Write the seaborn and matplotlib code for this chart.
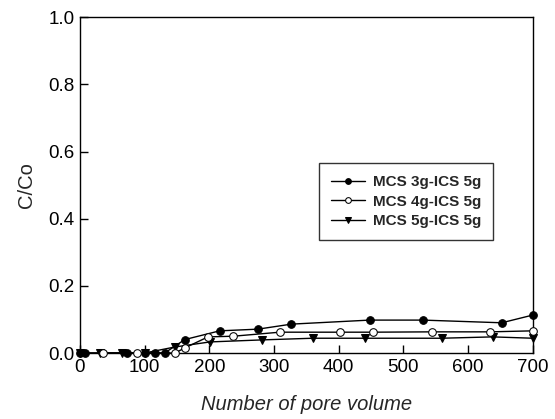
import matplotlib
matplotlib.use('Agg')
import matplotlib.pyplot as plt
import seaborn as sns
import pandas as pd

# data
x_3g = [0, 8, 72, 100, 116, 131, 162, 216, 275, 327, 448, 530, 652, 700]
y_3g = [0, 0, 0, 0, 0, 0, 0.04, 0.066, 0.071, 0.086, 0.098, 0.098, 0.09, 0.113]

x_4g = [35, 88, 147, 162, 198, 237, 309, 402, 453, 544, 634, 700]
y_4g = [0, 0, 0, 0.015, 0.048, 0.05, 0.062, 0.062, 0.062, 0.063, 0.063, 0.066]

x_5g = [0, 31, 65, 100, 147, 201, 281, 360, 440, 559, 638, 700]
y_5g = [0, 0, 0, 0, 0.018, 0.033, 0.039, 0.044, 0.044, 0.044, 0.048, 0.044]

labels = ['MCS 3g-ICS 5g', 'MCS 4g-ICS 5g', 'MCS 5g-ICS 5g']
x_ticks = [0, 100, 200, 300, 400, 500, 600, 700]
y_ticks = [0.0, 0.2, 0.4, 0.6, 0.8, 1.0]

sns.set_style('ticks')
plt.rcParams['font.family'] = ['Liberation Sans', 'DejaVu Sans']
plt.rcParams['xtick.direction'] = 'in'
plt.rcParams['ytick.direction'] = 'in'

fig = plt.figure(figsize=(5.55, 4.19), dpi=100)
ax = fig.add_axes([0.144, 0.1575, 0.816, 0.8015])

df1 = pd.DataFrame({'x': x_3g, 'y': y_3g})
df2 = pd.DataFrame({'x': x_4g, 'y': y_4g})
df3 = pd.DataFrame({'x': x_5g, 'y': y_5g})

sns.lineplot(data=df1, x='x', y='y', ax=ax, color='black', lw=1, marker='o',
             markersize=5.5, markerfacecolor='black', markeredgecolor='black',
             label=labels[0], clip_on=False, zorder=3)
sns.lineplot(data=df2, x='x', y='y', ax=ax, color='black', lw=1, marker='o',
             markersize=5.5, markerfacecolor='white', markeredgecolor='black',
             label=labels[1], clip_on=False, zorder=4)
sns.lineplot(data=df3, x='x', y='y', ax=ax, color='black', lw=1, marker='v',
             markersize=5.5, markerfacecolor='black', markeredgecolor='black',
             label=labels[2], clip_on=False, zorder=3)

ax.set_xlim(0, 700)
ax.set_ylim(0, 1.0)
ax.set_xticks(x_ticks)
ax.set_yticks(y_ticks)
ax.set_yticklabels([f'{v:.1f}' for v in y_ticks])
ax.tick_params(length=6, width=1, labelsize=13.5, colors='black', pad=4)
for s in ax.spines.values():
    s.set_color('black')
    s.set_linewidth(1)

ax.set_xlabel('Number of pore volume', fontsize=14.5, style='italic', labelpad=14)
ax.set_ylabel('C/Co', fontsize=14.5, labelpad=9)

leg = ax.legend(loc='upper left', bbox_to_anchor=(0.528, 0.565), borderaxespad=0,
                frameon=True, fancybox=False, edgecolor='black',
                prop={'weight': 'bold', 'size': 11}, markerscale=0.75,
                handlelength=2.2, borderpad=0.8, labelspacing=0.35, handletextpad=0.5)
leg.get_frame().set_linewidth(1)

fig.savefig('out.png', dpi=100)
